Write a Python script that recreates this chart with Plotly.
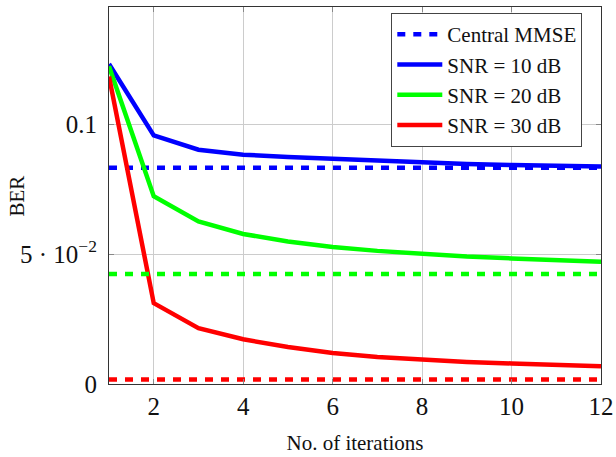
import plotly.graph_objects as go

iterations = list(range(1, 13))
snr10 = [0.1231, 0.0956, 0.0901, 0.0882, 0.0873, 0.0866, 0.0858, 0.0851, 0.0846, 0.0842, 0.0839, 0.0837]
snr20 = [0.1222, 0.0722, 0.0625, 0.0577, 0.0548, 0.0527, 0.0512, 0.0500, 0.0490, 0.0483, 0.0476, 0.0470]
snr30 = [0.1183, 0.0311, 0.0215, 0.0172, 0.0142, 0.0119, 0.0104, 0.0093, 0.0085, 0.0079, 0.0073, 0.0068]
mmse10 = 0.0832
mmse20 = 0.0423
mmse30 = 0.0017

BLUE, GREEN, RED = "#0000FF", "#00FF00", "#FF0000"
DASH = "8px,8px"
LW = 4.5

fig = go.Figure()
fig.add_trace(go.Scatter(x=iterations, y=[mmse10] * len(iterations), mode="lines",
                         line=dict(color=BLUE, width=LW, dash=DASH), name="Central MMSE"))
fig.add_trace(go.Scatter(x=iterations, y=snr10, mode="lines",
                         line=dict(color=BLUE, width=LW), name="SNR = 10 dB"))
fig.add_trace(go.Scatter(x=iterations, y=snr20, mode="lines",
                         line=dict(color=GREEN, width=LW), name="SNR = 20 dB"))
fig.add_trace(go.Scatter(x=iterations, y=snr30, mode="lines",
                         line=dict(color=RED, width=LW), name="SNR = 30 dB"))
fig.add_trace(go.Scatter(x=iterations, y=[mmse20] * len(iterations), mode="lines",
                         line=dict(color=GREEN, width=LW, dash=DASH), showlegend=False))
fig.add_trace(go.Scatter(x=iterations, y=[mmse30] * len(iterations), mode="lines",
                         line=dict(color=RED, width=LW, dash=DASH), showlegend=False))

axis_common = dict(showline=True, linecolor="#333333", linewidth=1.2, mirror="ticks",
                   ticks="inside", ticklen=5, tickcolor="#888888",
                   showgrid=True, gridcolor="#cccccc", gridwidth=1, zeroline=False,
                   automargin=False,
                   tickfont=dict(family="Liberation Serif", size=25, color="#111111"))

fig.update_layout(
    width=616, height=457,
    margin=dict(l=109, r=15, t=7, b=73),
    paper_bgcolor="white", plot_bgcolor="white",
    font=dict(family="Liberation Serif", color="#111111"),
    xaxis=dict(range=[1, 12], tickvals=[2, 4, 6, 8, 10, 12],
               title=dict(text="No. of iterations", font=dict(size=21), standoff=16),
               **axis_common),
    yaxis=dict(range=[0, 0.145], tickvals=[0, 0.05, 0.1],
               ticktext=["0", "5 \u00b7 10<sup>\u22122</sup>", "0.1"],
               ticklabelstandoff=6,
               **axis_common),
    legend=dict(x=0.962, y=0.984, xanchor="right", yanchor="top",
                bordercolor="#444444", borderwidth=1, bgcolor="white",
                itemwidth=45,
                font=dict(family="Liberation Serif", size=21, color="#111111")),
    showlegend=True,
    annotations=[dict(text="BER", xref="paper", yref="paper", x=-0.187, y=0.5,
                      xanchor="center", yanchor="middle", textangle=-90, showarrow=False,
                      font=dict(family="Liberation Serif", size=21, color="#111111"))],
)

fig.write_html("out.html", config={"displayModeBar": False},
               post_script="document.body.style.margin='0';")
